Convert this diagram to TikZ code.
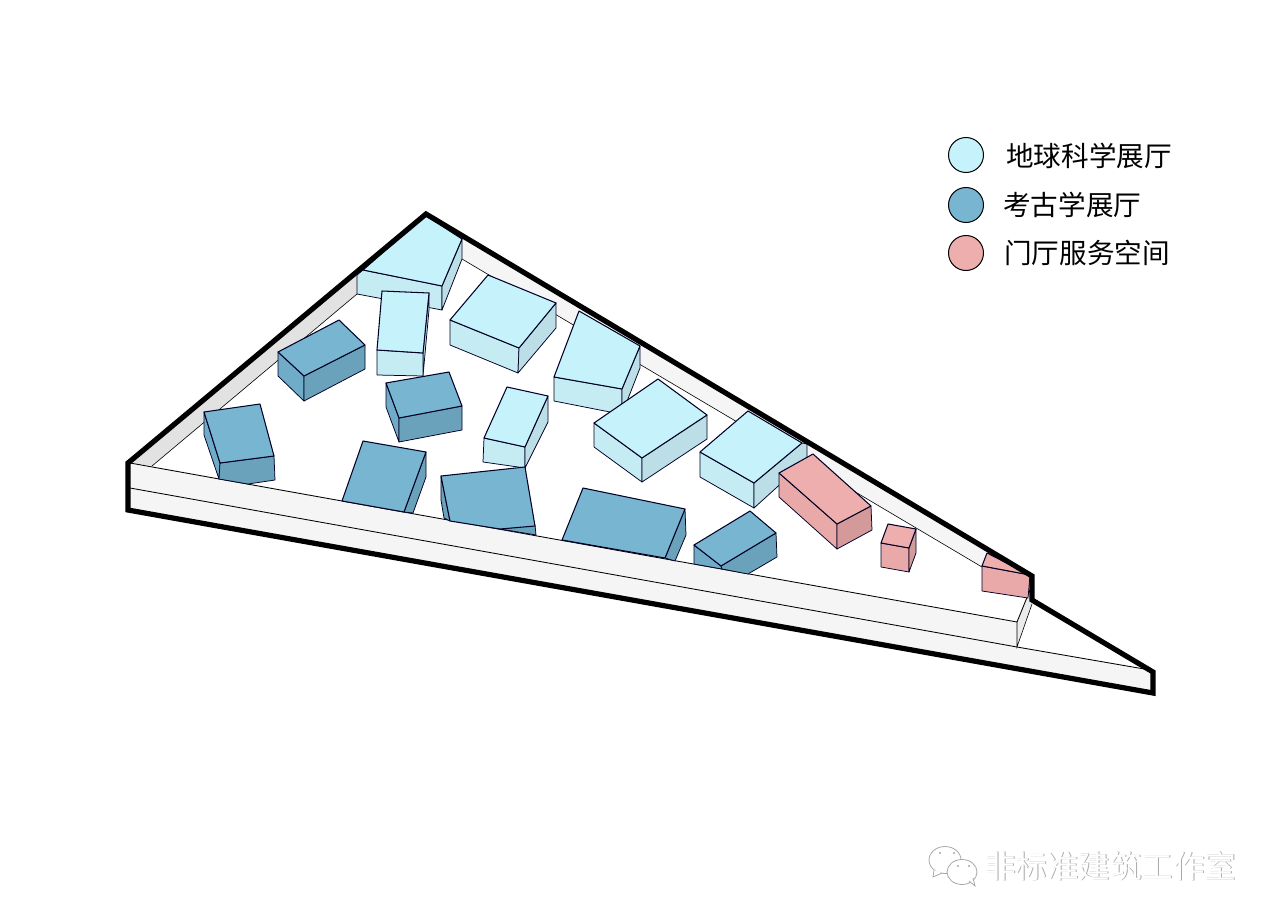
\documentclass[tikz,border=0pt]{standalone}
\usepackage{fontspec}
\setmainfont{Noto Sans CJK SC}
\definecolor{ltop}{HTML}{C6F3FB}
\definecolor{lfront}{HTML}{C5EBF3}
\definecolor{lside}{HTML}{BCDFE7}
\definecolor{btop}{HTML}{78B5D1}
\definecolor{bfront}{HTML}{70ACC8}
\definecolor{bside}{HTML}{69A2BA}
\definecolor{ptop}{HTML}{EEAEAE}
\definecolor{pfront}{HTML}{E9A9A9}
\definecolor{pside}{HTML}{D49A9A}
\definecolor{wall}{HTML}{F5F5F5}
\definecolor{wallleft}{HTML}{E2E2E2}
\definecolor{wallend}{HTML}{EBEBEB}
\definecolor{wmgray}{HTML}{A8A8A8}
\tikzset{
  face/.style={draw=black!85!blue,line width=0.75pt,line join=round},
  topface/.style={draw=black!85!blue,line width=1.05pt,line join=round},
  thin edge/.style={draw=black,line width=0.6pt},
  base edge/.style={draw=black,line width=0.85pt},
  legendmark/.style={circle,draw=black,line width=1pt,minimum size=35pt,inner sep=0pt},
  legendtext/.style={anchor=west,inner sep=0pt,font=\fontsize{27.6}{30}\selectfont},
  wmtext/.style={anchor=west,inner sep=0pt,font=\fontsize{31.5}{34}\selectfont}
}
\begin{document}
\begin{tikzpicture}[x=1pt,y=-1pt]
\useasboundingbox (0,0) rectangle (1280,923);
\fill[white] (0,0) rectangle (1280,923);
% base
\fill[wall] (426,214) -- (128,463) -- (128,510) -- (1153,693) -- (1153,672) -- (1032,600) -- (1032,576) -- cycle;
\fill[white] (152,466) -- (357,294) -- (462,259) -- (982,567) -- (1030,590) -- (1017,622) -- cycle;
\fill[white] (1032,604) -- (1017,647) -- (1150,670) -- cycle;
\fill[wallleft] (130,463) -- (152,466) -- (357,294) -- (357,272) -- cycle;
\fill[wallend] (1017,622) -- (1030,590) -- (1032,604) -- (1017,647) -- cycle;
\draw[thin edge] (152,466) -- (357,294);
\draw[thin edge] (462,259) -- (982,567);
\draw[base edge] (130,463) -- (1017,622) -- (1030,590);
\draw[base edge] (130,488) -- (1017,647) -- (1150,670);
\draw[thin edge] (1017,622) -- (1017,647) -- (1032,604);
% light blue boxes
\filldraw[face,fill=lfront] (357,275) -- (357,294) -- (442,310) -- (442,286) -- (363,270) -- cycle;
\filldraw[face,fill=lside] (462,239) -- (442,286) -- (442,310) -- (462,259) -- cycle;
\filldraw[topface,fill=ltop] (425,215) -- (462,239) -- (442,286) -- (363,270) -- cycle;
\filldraw[face,fill=lside] (429,293) -- (423,353) -- (423,376) -- (429,310) -- cycle;
\filldraw[face,fill=lfront] (377,350) -- (423,353) -- (423,376) -- (377,375) -- cycle;
\filldraw[topface,fill=ltop] (382,291) -- (429,293) -- (423,353) -- (377,350) -- cycle;
\filldraw[face,fill=lfront] (450,320) -- (519,348) -- (518,373) -- (450,345) -- cycle;
\filldraw[face,fill=lside] (556,303) -- (519,348) -- (518,373) -- (556,328) -- cycle;
\filldraw[topface,fill=ltop] (488,275) -- (556,303) -- (519,348) -- (450,320) -- cycle;
\filldraw[face,fill=lfront] (554,377) -- (622,389) -- (622,414) -- (610,412) -- (554,401) -- cycle;
\filldraw[face,fill=lside] (640,346) -- (622,389) -- (622,414) -- (640,368) -- cycle;
\filldraw[topface,fill=ltop] (579,311) -- (640,346) -- (622,389) -- (554,377) -- cycle;
\filldraw[face,fill=lfront] (484,438) -- (525,447) -- (525,468) -- (483,462) -- cycle;
\filldraw[face,fill=lside] (548,396) -- (525,447) -- (525,468) -- (548,422) -- cycle;
\filldraw[topface,fill=ltop] (507,387) -- (548,396) -- (525,447) -- (484,438) -- cycle;
\filldraw[face,fill=lfront] (594,423) -- (642,458) -- (642,482) -- (594,447) -- cycle;
\filldraw[face,fill=lside] (642,458) -- (707,415) -- (707,439) -- (642,482) -- cycle;
\filldraw[topface,fill=ltop] (658,379) -- (707,415) -- (642,458) -- (594,423) -- cycle;
\filldraw[face,fill=lfront] (700,452) -- (754,483) -- (754,508) -- (700,477) -- cycle;
\filldraw[face,fill=lside] (754,483) -- (802,443) -- (807,444) -- (807,460) -- (754,508) -- cycle;
\filldraw[topface,fill=ltop] (748,411) -- (802,443) -- (754,483) -- (700,452) -- cycle;
% blue boxes
\filldraw[face,fill=bfront] (278,352) -- (304,376) -- (304,401) -- (278,376) -- cycle;
\filldraw[face,fill=bside] (304,376) -- (365,345) -- (365,369) -- (304,401) -- cycle;
\filldraw[topface,fill=btop] (278,352) -- (339,320) -- (365,345) -- (304,376) -- cycle;
\filldraw[face,fill=bfront] (386,383) -- (399,418) -- (399,442) -- (386,407) -- cycle;
\filldraw[face,fill=bside] (399,418) -- (462,406) -- (462,430) -- (399,442) -- cycle;
\filldraw[topface,fill=btop] (386,383) -- (449,372) -- (462,406) -- (399,418) -- cycle;
\filldraw[face,fill=bfront] (204,412) -- (220,463) -- (219,479) -- (204,435) -- cycle;
\filldraw[face,fill=bside] (220,463) -- (274,456) -- (275,480) -- (248,484) -- (219,479) -- cycle;
\filldraw[topface,fill=btop] (204,412) -- (260,404) -- (274,456) -- (220,463) -- cycle;
\filldraw[face,fill=bside] (426,452) -- (404,512) -- (413,513) -- (426,477) -- cycle;
\filldraw[topface,fill=btop] (363,441) -- (426,452) -- (404,512) -- (342,501) -- cycle;
\filldraw[face,fill=bside] (441,476) -- (450,521) -- (444,518) -- (441,500) -- cycle;
\filldraw[face,fill=bside] (500,529) -- (535,525) -- (536,535) -- cycle;
\filldraw[topface,fill=btop] (441,476) -- (525,467) -- (535,526) -- (500,529) -- (450,521) -- cycle;
\filldraw[face,fill=bside] (685,509) -- (665,558) -- (675,561) -- (686,535) -- cycle;
\filldraw[topface,fill=btop] (583,488) -- (685,509) -- (665,558) -- (562,540) -- cycle;
\filldraw[face,fill=bfront] (694,545) -- (721,566) -- (722,569) -- (694,564) -- cycle;
\filldraw[face,fill=bside] (721,566) -- (776,533) -- (777,557) -- (748,574) -- (722,569) -- cycle;
\filldraw[topface,fill=btop] (694,545) -- (750,511) -- (776,533) -- (721,566) -- cycle;
% pink boxes
\filldraw[face,fill=pfront] (779,473) -- (837,524) -- (837,549) -- (779,497) -- cycle;
\filldraw[face,fill=pside] (837,524) -- (871,506) -- (872,530) -- (837,549) -- cycle;
\filldraw[topface,fill=ptop] (813,454) -- (871,506) -- (837,524) -- (779,473) -- cycle;
\filldraw[face,fill=pfront] (881,543) -- (909,548) -- (909,572) -- (881,567) -- cycle;
\filldraw[face,fill=pside] (916,529) -- (909,548) -- (909,572) -- (916,553) -- cycle;
\filldraw[topface,fill=ptop] (888,524) -- (916,529) -- (909,548) -- (881,543) -- cycle;
\filldraw[face,fill=pfront] (982,566) -- (1030,575) -- (1028,598) -- (982,591) -- cycle;
\filldraw[topface,fill=ptop] (987,553) -- (1030,575) -- (982,566) -- cycle;
% outline
\draw[line width=5.2pt,line join=miter] (426,214) -- (128,463) -- (128,510) -- (1153,693) -- (1153,672) -- (1032,600) -- (1032,576) -- cycle;
% legend
\node[legendmark,fill=ltop] (m1) at (966,155) {};
\node[legendmark,fill=btop] (m2) at (966,205) {};
\node[legendmark,fill=ptop] (m3) at (966,253) {};
\node[legendtext] (t1) at (1006,156) {地球科学展厅};
\node[legendtext] (t2) at (1003,205) {考古学展厅};
\node[legendtext] (t3) at (1004,253) {门厅服务空间};
% watermark
\begin{scope}[line width=0.8pt]
\draw[wmgray,fill=white] (945,860) ellipse [x radius=16,y radius=13.5];
\draw[wmgray,fill=white] (934,870) -- (933,877) -- (942,873);
\draw[wmgray,fill=white] (962,872) ellipse [x radius=15,y radius=12.5];
\draw[wmgray,fill=white] (969,881) -- (975,886) -- (973,878);
\fill[wmgray] (940,853) circle (1.2) (954,853) circle (1.2) (958,866) circle (1.2) (969,866) circle (1.2);
\end{scope}
\node[wmtext,text=wmgray] (wm0) at (984.8,866.8) {非标准建筑工作室};
\node[wmtext,text=white] (wm) at (984,866) {非标准建筑工作室};
\end{tikzpicture}
\end{document}
